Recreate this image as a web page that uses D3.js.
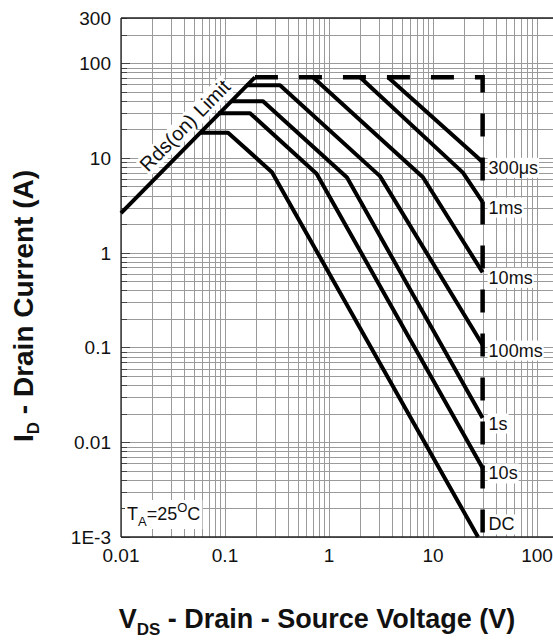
<!DOCTYPE html>
<html>
<head>
<meta charset="utf-8">
<script src="https://cdn.jsdelivr.net/npm/d3@7"></script>
<style>
body { margin: 0; background: #fff; }
text { font-family: "Liberation Sans", Arial, sans-serif; fill: #111; }
</style>
</head>
<body>
<div id="graph-container"></div>
<script>
var w = 553;
var h = 641;

// tick values and labels
var yTicks = [0.001, 0.01, 0.1, 1, 10, 100, 300];
var yTickLabels = ["1E-3", "0.01", "0.1", "1", "10", "100", "300"];
var xTicks = [0.01, 0.1, 1, 10, 100];
var xTickLabels = ["0.01", "0.1", "1", "10", "100"];

// limits [V, A]
var rdsLimit = [[0.01, 2.62], [0.194, 71]];
var maxLimit = [[0.194, 71], [30, 71], [30, 0.001]];

// SOA curves [V, A]
var curveNames = ["300\u03bcs", "1ms", "10ms", "100ms", "1s", "10s", "DC"];
var soa300us = [[3.69, 71], [25.9, 10.5], [30, 9.0]];
var soa1ms   = [[1.99, 71], [19.4, 7.0], [30, 3.42]];
var soa10ms  = [[0.702, 71], [8.0, 6.25], [30, 0.62]];
var soa100ms = [[0.159, 58.6], [0.338, 58.6], [3.09, 6.43], [30, 0.106]];
var soa1s    = [[0.114, 39.7], [0.232, 39.7], [1.49, 6.21], [30, 0.018]];
var soa10s   = [[0.086, 29.7], [0.174, 29.7], [0.76, 6.81], [30, 0.00535]];
var soaDC    = [[0.0576, 18.5], [0.107, 18.5], [0.283, 7.08], [27.1, 0.001]];
var curves = [soa300us, soa1ms, soa10ms, soa100ms, soa1s, soa10s, soaDC];

var x = d3.scaleLog().domain([0.01, 100]).range([121, 537]);
var y = d3.scaleLog().domain([0.001, 300]).range([537, 18]);
var right = 553;

var svg = d3.select("#graph-container")
  .append("svg")
  .attr("width", w)
  .attr("height", h);

// grid values 1..9 per decade
var xGrid = [], yGrid = [];
for (var e = -2; e < 2; e++) {
  for (var m = 1; m < 10; m++) xGrid.push(m * Math.pow(10, e));
}
xGrid.push(100);
for (var e2 = -3; e2 < 3; e2++) {
  for (var m2 = 1; m2 < 10; m2++) {
    var v = m2 * Math.pow(10, e2);
    if (v <= 300) yGrid.push(v);
  }
}

var grid = svg.append("g").attr("class", "grid");
grid.selectAll("line.vx")
  .data(xGrid)
  .enter().append("line")
  .attr("class", "vx")
  .attr("x1", function(d) { return Math.round(x(d)) + 0.5; })
  .attr("x2", function(d) { return Math.round(x(d)) + 0.5; })
  .attr("y1", y(300))
  .attr("y2", y(0.001))
  .attr("stroke", "#9a9a9a")
  .attr("stroke-width", 1);

grid.selectAll("line.hy")
  .data(yGrid)
  .enter().append("line")
  .attr("class", "hy")
  .attr("x1", x(0.01))
  .attr("x2", right)
  .attr("y1", function(d) { return Math.round(y(d)) + 0.5; })
  .attr("y2", function(d) { return Math.round(y(d)) + 0.5; })
  .attr("stroke", "#9a9a9a")
  .attr("stroke-width", 1);

// short dark ticks on the left axis
grid.selectAll("line.tk")
  .data(yGrid)
  .enter().append("line")
  .attr("class", "tk")
  .attr("x1", x(0.01))
  .attr("x2", function(d) {
    var mant = d / Math.pow(10, Math.floor(Math.log10(d) + 1e-9));
    return x(0.01) + (Math.abs(mant - 1) < 1e-6 ? 9 : 6);
  })
  .attr("y1", function(d) { return Math.round(y(d)) + 0.5; })
  .attr("y2", function(d) { return Math.round(y(d)) + 0.5; })
  .attr("stroke", "#444")
  .attr("stroke-width", 1);

// frame
var frame = svg.append("g").attr("class", "frame");
frame.append("line")
  .attr("x1", x(0.01)).attr("x2", right)
  .attr("y1", y(300)).attr("y2", y(300))
  .attr("stroke", "#222").attr("stroke-width", 1.3);
frame.append("line")
  .attr("x1", x(0.01)).attr("x2", right)
  .attr("y1", y(0.001)).attr("y2", y(0.001))
  .attr("stroke", "#222").attr("stroke-width", 1.3);
frame.append("line")
  .attr("x1", x(0.01)).attr("x2", x(0.01))
  .attr("y1", y(300)).attr("y2", y(0.001))
  .attr("stroke", "#222").attr("stroke-width", 1.3);

// tick labels
svg.append("g").selectAll("text")
  .data(yTicks)
  .enter().append("text")
  .attr("x", 111)
  .attr("y", function(d) { return y(d); })
  .attr("dy", "0.36em")
  .attr("text-anchor", "end")
  .style("font-size", "19px")
  .text(function(d, i) { return yTickLabels[i]; });

svg.append("g").selectAll("text")
  .data(xTicks)
  .enter().append("text")
  .attr("x", function(d) { return x(d); })
  .attr("y", 562)
  .attr("text-anchor", "middle")
  .style("font-size", "19px")
  .text(function(d, i) { return xTickLabels[i]; });

var line = d3.line()
  .x(function(d) { return x(d[0]); })
  .y(function(d) { return y(d[1]); });

var plot = svg.append("g").attr("class", "curves");

plot.append("path")
  .attr("d", line(rdsLimit))
  .attr("fill", "none")
  .attr("stroke", "#000")
  .attr("stroke-width", 4);

plot.append("path")
  .attr("d", line(maxLimit))
  .attr("fill", "none")
  .attr("stroke", "#000")
  .attr("stroke-width", 4.5)
  .attr("stroke-dasharray", "23,21");

plot.selectAll("path.soa")
  .data(curves)
  .enter().append("path")
  .attr("class", "soa")
  .attr("d", function(d) { return line(d); })
  .attr("fill", "none")
  .attr("stroke", "#000")
  .attr("stroke-width", 4)
  .attr("stroke-linejoin", "round");

// curve labels with white boxes
var labels = svg.append("g").attr("class", "labels");
curves.forEach(function(c, i) {
  var last = c[c.length - 1];
  var ly = Math.min(y(last[1]) + 5, y(0.001) - 13);
  var g = labels.append("g");
  var t = g.append("text")
    .attr("x", x(30) + 6)
    .attr("y", ly)
    .attr("dy", "0.36em")
    .style("font-size", "18px")
    .text(curveNames[i]);
  var bb = t.node().getBBox();
  g.insert("rect", "text")
    .attr("x", bb.x - 1)
    .attr("y", bb.y)
    .attr("width", bb.width + 2)
    .attr("height", bb.height)
    .attr("fill", "#fff");
});

// Rds(on) Limit text along the limit line
var p1 = [x(rdsLimit[0][0]), y(rdsLimit[0][1])];
var p2 = [x(rdsLimit[1][0]), y(rdsLimit[1][1])];
var ang = Math.atan2(p2[1] - p1[1], p2[0] - p1[0]);
var tpos = 0.25;
var ax = p1[0] + (p2[0] - p1[0]) * tpos + Math.sin(ang) * 9;
var ay = p1[1] + (p2[1] - p1[1]) * tpos - Math.cos(ang) * 9;
var rg = svg.append("g")
  .attr("transform", "translate(" + ax + "," + ay + ") rotate(" + (ang * 180 / Math.PI) + ")");
var rt = rg.append("text")
  .attr("x", 0).attr("y", 0)
  .style("font-size", "20px")
  .text("Rds(on) Limit");
var rb = rt.node().getBBox();
rg.insert("rect", "text")
  .attr("x", rb.x - 1).attr("y", rb.y + 1)
  .attr("width", rb.width + 2).attr("height", rb.height - 1)
  .attr("fill", "#fff");

// ambient temperature note
var ta = svg.append("g");
var tt = ta.append("text")
  .attr("x", 127)
  .attr("y", 520)
  .style("font-size", "18px");
tt.append("tspan").text("T");
tt.append("tspan").attr("dy", 6).style("font-size", "13px").text("A");
tt.append("tspan").attr("dy", -6).text("=25");
tt.append("tspan").attr("dy", -8).style("font-size", "13px").text("O");
tt.append("tspan").attr("dy", 8).text("C");
var tb = tt.node().getBBox();
ta.insert("rect", "text")
  .attr("x", tb.x - 2).attr("y", tb.y)
  .attr("width", tb.width + 4).attr("height", tb.height)
  .attr("fill", "#fff");

// axis titles
var xt = svg.append("text")
  .attr("x", 317)
  .attr("y", 628)
  .attr("text-anchor", "middle")
  .style("font-size", "27px")
  .style("font-weight", "bold");
xt.append("tspan").text("V");
xt.append("tspan").attr("dy", 7).style("font-size", "17px").text("DS");
xt.append("tspan").attr("dy", -7).text(" - Drain - Source Voltage (V)");

var yt = svg.append("text")
  .attr("transform", "translate(33,306) rotate(-90)")
  .attr("text-anchor", "middle")
  .style("font-size", "28px")
  .style("font-weight", "bold");
yt.append("tspan").text("I");
yt.append("tspan").attr("dy", 6).style("font-size", "17px").text("D");
yt.append("tspan").attr("dy", -6).text(" - Drain Current (A)");
</script>
</body>
</html>
